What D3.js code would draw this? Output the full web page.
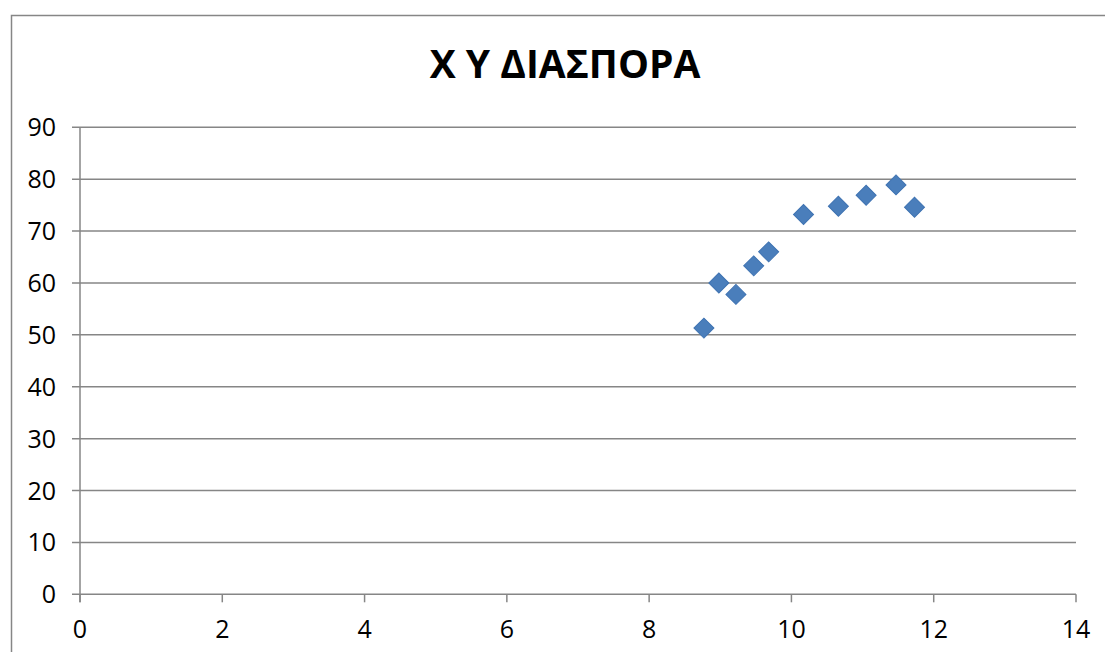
<!DOCTYPE html>
<html><head><meta charset="utf-8">
<script src="https://cdn.jsdelivr.net/npm/d3@7"></script>
<style>body{margin:0;background:#fff}svg{display:block}</style>
</head><body>
<svg id="c" width="1105" height="652"></svg>
<script>
const title = "X Y ΔΙΑΣΠΟΡΑ";
const xValues = [8.77, 8.98, 9.22, 9.47, 9.68, 10.17, 10.66, 11.05, 11.47, 11.73];
const yValues = [51.3, 60.0, 57.8, 63.3, 66.0, 73.2, 74.8, 76.9, 78.9, 74.6];
const xTicks = [0, 2, 4, 6, 8, 10, 12, 14];
const yTicks = [0, 10, 20, 30, 40, 50, 60, 70, 80, 90];

const svg = d3.select("#c");
const font = "'Open Sans', 'Noto Sans', sans-serif";
const grid = "#868686";

svg.append("rect").attr("x", 11.5).attr("y", 15.5).attr("width", 1300).attr("height", 1000)
  .attr("fill", "#fff").attr("stroke", "#868686").attr("stroke-width", 1.5);

const x = d3.scaleLinear().domain([0, 14]).range([80, 1076]);
const y = d3.scaleLinear().domain([0, 90]).range([594.3, 127.3]);

svg.append("g").selectAll("line").data(yTicks).join("line")
  .attr("x1", x(0) - 8).attr("x2", x(14))
  .attr("y1", d => y(d)).attr("y2", d => y(d))
  .attr("stroke", grid).attr("stroke-width", 1.5);

svg.append("line").attr("x1", x(0)).attr("x2", x(0)).attr("y1", y(90)).attr("y2", y(0) + 8)
  .attr("stroke", grid).attr("stroke-width", 1.5);
svg.append("g").selectAll("line").data(xTicks).join("line")
  .attr("x1", d => x(d)).attr("x2", d => x(d)).attr("y1", y(0)).attr("y2", y(0) + 8)
  .attr("stroke", grid).attr("stroke-width", 1.5);

svg.append("g").selectAll("text").data(yTicks).join("text")
  .attr("x", 56).attr("y", d => y(d)).attr("dy", "0.36em")
  .attr("text-anchor", "end").attr("font-family", font).attr("font-size", 25).attr("fill", "#000")
  .text(d => d);
svg.append("g").selectAll("text").data(xTicks).join("text")
  .attr("x", d => x(d)).attr("y", 629).attr("dy", "0.36em")
  .attr("text-anchor", "middle").attr("font-family", font).attr("font-size", 25).attr("fill", "#000")
  .text(d => d);

svg.append("text").attr("x", 565).attr("y", 78).attr("text-anchor", "middle")
  .attr("font-family", font).attr("font-weight", "bold").attr("font-size", 39).attr("fill", "#000")
  .text(title);

const pts = xValues.map((v, i) => ({x: v, y: yValues[i]}));
const sym = d3.symbol().type(d3.symbolSquare).size(200);
svg.append("g").selectAll("path").data(pts).join("path")
  .attr("transform", d => `translate(${x(d.x)},${y(d.y)}) rotate(45)`)
  .attr("d", sym)
  .attr("fill", "#4a7ebb").attr("stroke", "#3f73b2").attr("stroke-width", 1);
</script>
</body></html>
